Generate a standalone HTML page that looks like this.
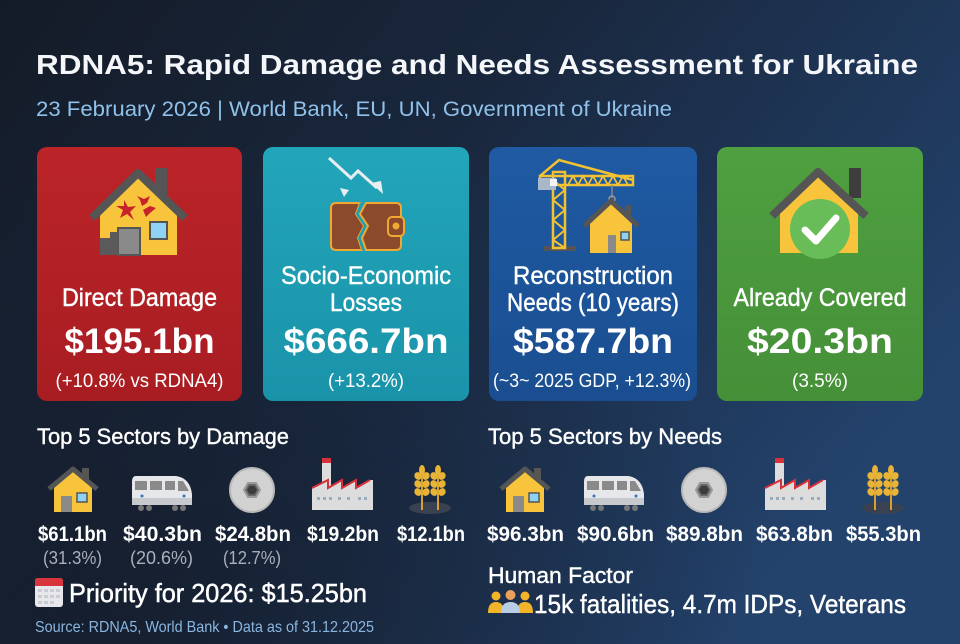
<!DOCTYPE html>
<html><head><meta charset="utf-8"><style>
html,body{margin:0;padding:0;background:#172033;}
svg{display:block;}
text{font-family:"Liberation Sans",sans-serif;}
</style></head><body>
<svg width="960" height="644" viewBox="0 0 960 644" xmlns="http://www.w3.org/2000/svg">
<defs>
<linearGradient id="bg" x1="0" y1="0" x2="1" y2="0.55">
<stop offset="0" stop-color="#141b27"/>
<stop offset="0.45" stop-color="#19273d"/>
<stop offset="1" stop-color="#23426c"/>
</linearGradient>
<radialGradient id="bgd" cx="0.1" cy="0.95" r="0.7">
<stop offset="0" stop-color="#141c2a" stop-opacity="0.8"/>
<stop offset="1" stop-color="#141c2a" stop-opacity="0"/>
</radialGradient>
<linearGradient id="gr" x1="0" y1="0" x2="0" y2="1"><stop offset="0" stop-color="#bb2428"/><stop offset="1" stop-color="#a81d22"/></linearGradient>
<linearGradient id="gt" x1="0" y1="0" x2="0" y2="1"><stop offset="0" stop-color="#22a5ba"/><stop offset="1" stop-color="#1a93a9"/></linearGradient>
<linearGradient id="gb" x1="0" y1="0" x2="0" y2="1"><stop offset="0" stop-color="#1f5aa3"/><stop offset="1" stop-color="#1a4e90"/></linearGradient>
<linearGradient id="gg" x1="0" y1="0" x2="0" y2="1"><stop offset="0" stop-color="#4fa040"/><stop offset="1" stop-color="#458f38"/></linearGradient>

<g id="shouse">
<rect x="34" y="1" width="7" height="14" fill="#555"/>
<polygon points="6,21 25,4 44,21 44,45 6,45" fill="#f7c43c"/>
<polyline points="1,22 25,2 49,22" fill="none" stroke="#555" stroke-width="5" stroke-linejoin="round"/>
<rect x="13" y="29" width="11" height="16" fill="#8a8a8a"/>
<rect x="29" y="26" width="10" height="9" fill="#8fd3f4" stroke="#555" stroke-width="1.5"/>
</g>
<g id="strain">
<path d="M4,4 H44 Q58,6 60,22 V33 H0 V10 Q0,4 4,4 Z" fill="#e6e7ea"/>
<rect x="0" y="26" width="60" height="7" fill="#c8c9cc"/>
<rect x="3" y="9" width="12" height="9" fill="#8a8a8a"/>
<rect x="18" y="9" width="12" height="9" fill="#8a8a8a"/>
<rect x="33" y="9" width="10" height="9" fill="#8a8a8a"/>
<path d="M46,9 L51,9 L57,19 L46,19 Z" fill="#8a8a8a"/>
<circle cx="10" cy="24" r="1.5" fill="#3a6fc0"/>
<circle cx="52" cy="24" r="1.5" fill="#3a6fc0"/>
<circle cx="9" cy="36" r="3" fill="#777"/><circle cx="17" cy="36" r="3" fill="#777"/>
<circle cx="43" cy="36" r="3" fill="#777"/><circle cx="51" cy="36" r="3" fill="#777"/>
</g>
<g id="snut">
<circle cx="0" cy="0" r="22" fill="#d2d2d2"/>
<circle cx="0" cy="0" r="22" fill="none" stroke="#b8b8b8" stroke-width="2"/>
<polygon points="8,0 4,7 -4,7 -8,0 -4,-7 4,-7" fill="#6a6a6a" stroke="#999" stroke-width="2"/>
<polygon points="5,0 2.5,4.3 -2.5,4.3 -5,0 -2.5,-4.3 2.5,-4.3" fill="#3c3c3c"/>
</g>
<g id="sfact">
<rect x="10" y="0" width="9" height="30" fill="#dcdcdc"/>
<rect x="10" y="0" width="9" height="5" fill="#d8303a"/>
<polygon points="0,52 0,30 16,22 16,30 30,22 30,30 44,22 44,30 58,22 61,22 61,52" fill="#dcdcdc"/>
<polyline points="0,30 16,22 16,30 30,22 30,30 44,22 44,30 58,22" fill="none" stroke="#d8303a" stroke-width="2"/>
<g fill="#9ab">
<rect x="5" y="39" width="3" height="3"/><rect x="11" y="39" width="3" height="3"/><rect x="17" y="39" width="3" height="3"/><rect x="26" y="39" width="3" height="3"/><rect x="35" y="39" width="3" height="3"/><rect x="46" y="39" width="3" height="3"/><rect x="52" y="39" width="3" height="3"/>
</g>
</g>
<g id="swheat">
<ellipse cx="22" cy="44" rx="21" ry="6" fill="#3a4252"/>
<line x1="14" y1="46" x2="14" y2="6" stroke="#d9a030" stroke-width="2"/>
<line x1="30" y1="46" x2="30" y2="6" stroke="#d9a030" stroke-width="2"/>
<g fill="#e8b437">
<ellipse cx="14" cy="6" rx="3" ry="5"/><ellipse cx="10" cy="12" rx="3.5" ry="4" transform="rotate(-30 10 12)"/><ellipse cx="18" cy="12" rx="3.5" ry="4" transform="rotate(30 18 12)"/>
<ellipse cx="10" cy="20" rx="3.5" ry="4" transform="rotate(-30 10 20)"/><ellipse cx="18" cy="20" rx="3.5" ry="4" transform="rotate(30 18 20)"/>
<ellipse cx="10" cy="28" rx="3.5" ry="4" transform="rotate(-30 10 28)"/><ellipse cx="18" cy="28" rx="3.5" ry="4" transform="rotate(30 18 28)"/>
<ellipse cx="30" cy="6" rx="3" ry="5"/><ellipse cx="26" cy="12" rx="3.5" ry="4" transform="rotate(-30 26 12)"/><ellipse cx="34" cy="12" rx="3.5" ry="4" transform="rotate(30 34 12)"/>
<ellipse cx="26" cy="20" rx="3.5" ry="4" transform="rotate(-30 26 20)"/><ellipse cx="34" cy="20" rx="3.5" ry="4" transform="rotate(30 34 20)"/>
<ellipse cx="26" cy="28" rx="3.5" ry="4" transform="rotate(-30 26 28)"/><ellipse cx="34" cy="28" rx="3.5" ry="4" transform="rotate(30 34 28)"/>
</g>
</g>
</defs>

<rect width="960" height="644" fill="url(#bg)"/>
<rect width="960" height="644" fill="url(#bgd)"/>

<!-- Header -->
<text x="36" y="74" font-size="28" font-weight="bold" fill="#f4f6f9" textLength="882" lengthAdjust="spacingAndGlyphs">RDNA5: Rapid Damage and Needs Assessment for Ukraine</text>
<text x="36" y="116" font-size="21" fill="#8fc1ea" textLength="636" lengthAdjust="spacingAndGlyphs">23 February 2026 | World Bank, EU, UN, Government of Ukraine</text>

<!-- Cards -->
<rect x="37" y="147" width="205" height="254" rx="10" fill="url(#gr)"/>
<rect x="263" y="147" width="206" height="254" rx="10" fill="url(#gt)"/>
<rect x="489" y="147" width="208" height="254" rx="10" fill="url(#gb)"/>
<rect x="717" y="147" width="206" height="254" rx="10" fill="url(#gg)"/>

<!-- Card 1 icon: damaged house -->
<g>
<rect x="155" y="168" width="12" height="32" fill="#555"/>
<polygon points="100,212 138,176 177,212 177,255 100,255" fill="#f7c43c"/>
<polyline points="92,218 138,173 185,218" fill="none" stroke="#555" stroke-width="8" stroke-linejoin="round"/>
<rect x="118" y="228" width="22" height="27" fill="#8a8a8a" stroke="#555" stroke-width="2"/>
<polygon points="100,238 110,238 110,232 118,232 118,255 100,255" fill="#5a5a5a"/>
<rect x="150" y="222" width="17" height="17" fill="#8fd3f4" stroke="#555" stroke-width="2"/>
<polygon points="124,200 128,207 136,206 130,212 134,220 127,214 120,218 123,210 116,206 124,206" fill="#c8232b"/>
<polygon points="137,196 144,199 150,196 147,203 142,206 140,200" fill="#c8232b"/>
<polygon points="143,210 150,206 156,208 150,213 146,217" fill="#c8232b"/>
</g>

<!-- Card 2 icon: arrow + broken wallet -->
<g>
<polyline points="329,158 351,178 358,171 377,188" fill="none" stroke="#e6eef2" stroke-width="3"/>
<polygon points="371,183 383,194 381,181" fill="#e6eef2"/>
<polygon points="340,188 349,190 344,197" fill="#e6eef2"/>
<path d="M336,203 H360 L356,214 L364,226 L358,238 L362,250 H336 Q331,250 331,245 V208 Q331,203 336,203 Z" fill="#8b4a2b" stroke="#f0a830" stroke-width="2"/>
<path d="M366,203 H396 Q401,203 401,208 V245 Q401,250 396,250 H366 L362,238 L368,226 L360,214 Z" fill="#8b4a2b" stroke="#f0a830" stroke-width="2"/>
<rect x="388" y="217" width="16" height="19" rx="4" fill="#8b4a2b" stroke="#f0a830" stroke-width="2"/>
<circle cx="396" cy="226" r="3.5" fill="#f0a830"/>
<polyline points="361,203 357,214 365,226 359,238 363,250" fill="none" stroke="#1e9fb5" stroke-width="2"/>
</g>

<!-- Card 3 icon: crane + house -->
<g>
<rect x="544" y="246" width="32" height="5" fill="#555"/>
<rect x="553" y="172" width="12" height="76" fill="none" stroke="#f2c230" stroke-width="2.5"/>
<polyline points="553,180 565,190 553,200 565,210 553,220 565,230 553,240 565,248" fill="none" stroke="#f2c230" stroke-width="2"/>
<rect x="540" y="176" width="93" height="9" fill="none" stroke="#f2c230" stroke-width="2.5"/>
<polyline points="568,185 573,176 578,185 583,176 588,185 593,176 598,185 603,176 608,185 613,176 618,185 623,176 628,185" fill="none" stroke="#f2c230" stroke-width="1.8"/>
<polyline points="540,176 559,160 633,180" fill="none" stroke="#f2c230" stroke-width="2.5"/>
<rect x="538" y="178" width="18" height="12" fill="#a9b8c8"/>
<rect x="550" y="179" width="7" height="7" fill="#f4f4f4"/>
<line x1="612" y1="185" x2="612" y2="198" stroke="#888" stroke-width="1.5"/>
<circle cx="612" cy="199" r="3" fill="none" stroke="#999" stroke-width="1.5"/>
<rect x="625" y="205" width="6" height="12" fill="#555"/>
<polygon points="590,222 611,203 632,222 632,253 590,253" fill="#f7c43c"/>
<polyline points="584,226 611,201 638,226" fill="none" stroke="#555" stroke-width="5" stroke-linejoin="round"/>
<rect x="608" y="235" width="8" height="18" fill="#8a8a8a"/>
<rect x="621" y="232" width="8" height="8" fill="#8fd3f4" stroke="#555" stroke-width="1.5"/>
</g>

<!-- Card 4 icon: house + check -->
<g>
<rect x="849" y="168" width="12" height="30" fill="#3e3e3e"/>
<polygon points="780,210 818,174 858,210 858,253 780,253" fill="#f7c43c"/>
<polyline points="772,216 818,172 866,216" fill="none" stroke="#555" stroke-width="8" stroke-linejoin="round"/>
<circle cx="820" cy="229" r="30" fill="#68bd58"/>
<polyline points="805,230 816,241 836,218" fill="none" stroke="#ffffff" stroke-width="7" stroke-linecap="round" stroke-linejoin="round"/>
</g>

<!-- Card texts -->
<g fill="#ffffff" text-anchor="middle">
<text x="139.5" y="306" font-size="25" stroke="#fff" stroke-width="0.4" textLength="155" lengthAdjust="spacingAndGlyphs">Direct Damage</text>
<text x="139.5" y="353" font-size="35" font-weight="bold" textLength="150" lengthAdjust="spacingAndGlyphs">$195.1bn</text>
<text x="139.5" y="387" font-size="19" textLength="168" lengthAdjust="spacingAndGlyphs">(+10.8% vs RDNA4)</text>

<text x="366" y="284" font-size="25" stroke="#fff" stroke-width="0.4" textLength="170" lengthAdjust="spacingAndGlyphs">Socio-Economic</text>
<text x="366" y="311" font-size="25" stroke="#fff" stroke-width="0.4" textLength="72" lengthAdjust="spacingAndGlyphs">Losses</text>
<text x="366" y="353" font-size="35" font-weight="bold" textLength="165" lengthAdjust="spacingAndGlyphs">$666.7bn</text>
<text x="366" y="387" font-size="19" textLength="76" lengthAdjust="spacingAndGlyphs">(+13.2%)</text>

<text x="593" y="284" font-size="25" stroke="#fff" stroke-width="0.4" textLength="160" lengthAdjust="spacingAndGlyphs">Reconstruction</text>
<text x="593" y="311" font-size="25" stroke="#fff" stroke-width="0.4" textLength="172" lengthAdjust="spacingAndGlyphs">Needs (10 years)</text>
<text x="593" y="353" font-size="35" font-weight="bold" textLength="160" lengthAdjust="spacingAndGlyphs">$587.7bn</text>
<text x="592" y="387" font-size="19" textLength="198" lengthAdjust="spacingAndGlyphs">(~3~ 2025 GDP, +12.3%)</text>

<text x="820" y="306" font-size="25" stroke="#fff" stroke-width="0.4" textLength="173" lengthAdjust="spacingAndGlyphs">Already Covered</text>
<text x="820" y="353" font-size="35" font-weight="bold" textLength="146" lengthAdjust="spacingAndGlyphs">$20.3bn</text>
<text x="820" y="387" font-size="19" textLength="56" lengthAdjust="spacingAndGlyphs">(3.5%)</text>
</g>

<!-- Section headers -->
<text x="37" y="444" font-size="22" fill="#fff" stroke="#fff" stroke-width="0.4" textLength="252" lengthAdjust="spacingAndGlyphs">Top 5 Sectors by Damage</text>
<text x="488" y="444" font-size="22" fill="#fff" stroke="#fff" stroke-width="0.4" textLength="234" lengthAdjust="spacingAndGlyphs">Top 5 Sectors by Needs</text>

<!-- Damage icons -->
<use href="#shouse" x="48" y="467"/>
<use href="#strain" x="132" y="472"/>
<use href="#snut" x="252" y="490"/>
<use href="#sfact" x="312" y="458"/>
<use href="#swheat" x="408" y="464"/>
<!-- Needs icons -->
<use href="#shouse" x="500" y="467"/>
<use href="#strain" x="584" y="472"/>
<use href="#snut" x="704" y="490"/>
<use href="#sfact" x="765" y="458"/>
<use href="#swheat" x="861" y="464"/>

<!-- Values -->
<g fill="#fff" font-weight="bold" font-size="21" text-anchor="middle">
<text x="72.5" y="541" textLength="69" lengthAdjust="spacingAndGlyphs">$61.1bn</text>
<text x="162.5" y="541" textLength="79" lengthAdjust="spacingAndGlyphs">$40.3bn</text>
<text x="253" y="541" textLength="76" lengthAdjust="spacingAndGlyphs">$24.8bn</text>
<text x="343" y="541" textLength="72" lengthAdjust="spacingAndGlyphs">$19.2bn</text>
<text x="431" y="541" textLength="68" lengthAdjust="spacingAndGlyphs">$12.1bn</text>

<text x="525.5" y="541" textLength="77" lengthAdjust="spacingAndGlyphs">$96.3bn</text>
<text x="615.5" y="541" textLength="77" lengthAdjust="spacingAndGlyphs">$90.6bn</text>
<text x="704.5" y="541" textLength="77" lengthAdjust="spacingAndGlyphs">$89.8bn</text>
<text x="794.5" y="541" textLength="77" lengthAdjust="spacingAndGlyphs">$63.8bn</text>
<text x="883.5" y="541" textLength="75" lengthAdjust="spacingAndGlyphs">$55.3bn</text>
</g>
<g fill="#a9b0bb" font-size="18.5" text-anchor="middle">
<text x="72.5" y="564" textLength="59" lengthAdjust="spacingAndGlyphs">(31.3%)</text>
<text x="161.5" y="564" textLength="63" lengthAdjust="spacingAndGlyphs">(20.6%)</text>
<text x="252" y="564" textLength="58" lengthAdjust="spacingAndGlyphs">(12.7%)</text>
</g>

<!-- Priority -->
<g>
<rect x="35" y="578" width="28" height="29" rx="3" fill="#e8e8ec"/>
<rect x="35" y="578" width="28" height="8" rx="3" fill="#d8343c"/>
<rect x="35" y="583" width="28" height="3" fill="#d8343c"/>
<g fill="#c9ccd2">
<rect x="38" y="589" width="4" height="3"/><rect x="44" y="589" width="4" height="3"/><rect x="50" y="589" width="4" height="3"/><rect x="56" y="589" width="4" height="3"/>
<rect x="38" y="595" width="4" height="3"/><rect x="44" y="595" width="4" height="3"/><rect x="50" y="595" width="4" height="3"/><rect x="56" y="595" width="4" height="3"/>
<rect x="38" y="601" width="4" height="3"/><rect x="44" y="601" width="4" height="3"/><rect x="50" y="601" width="4" height="3"/>
</g>
</g>
<text x="69" y="602" font-size="26" fill="#fff" stroke="#fff" stroke-width="0.5" textLength="298" lengthAdjust="spacingAndGlyphs">Priority for 2026: $15.25bn</text>
<text x="35" y="632" font-size="16" fill="#8ab6e0" textLength="339" lengthAdjust="spacingAndGlyphs">Source: RDNA5, World Bank • Data as of 31.12.2025</text>

<!-- Human factor -->
<text x="488" y="583" font-size="22" fill="#fff" stroke="#fff" stroke-width="0.4" textLength="145" lengthAdjust="spacingAndGlyphs">Human Factor</text>
<g>
<circle cx="496" cy="596" r="4.5" fill="#f2b52a"/><path d="M488,613 Q488,602 496,602 Q504,602 504,613 Z" fill="#f2b52a"/>
<circle cx="525" cy="596" r="4.5" fill="#f2b52a"/><path d="M517,613 Q517,602 525,602 Q533,602 533,613 Z" fill="#f2b52a"/>
<circle cx="510.5" cy="595" r="5" fill="#e9a05a"/><path d="M501,613 Q501,602 510.5,602 Q520,602 520,613 Z" fill="#b8cde6"/>
</g>
<text x="534" y="613" font-size="26" fill="#fff" stroke="#fff" stroke-width="0.4" textLength="372" lengthAdjust="spacingAndGlyphs">15k fatalities, 4.7m IDPs, Veterans</text>
</svg>
</body></html>
